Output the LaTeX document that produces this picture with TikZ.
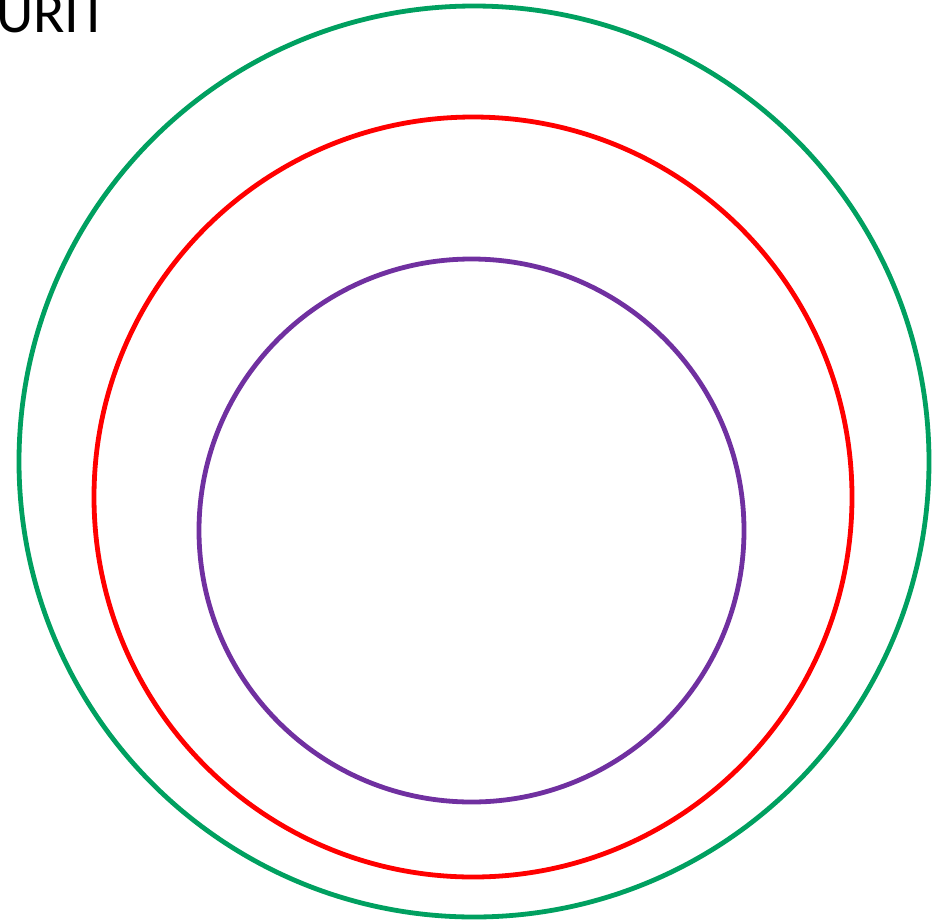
\documentclass[tikz,border=0pt]{standalone}
\usepackage{fontspec}
\setmainfont{Carlito}
\usepackage{tikz}
\definecolor{ringgreen}{HTML}{00A060}
\definecolor{ringred}{HTML}{FF0000}
\definecolor{ringpurple}{HTML}{7030A0}

\begin{document}
\begin{tikzpicture}[x=1pt, y=-1pt, ring/.style={line width=4.8pt}]
  \useasboundingbox (0,0) rectangle (948,922);
  \clip (0,0) rectangle (948,922);
  \node[anchor=base west, inner sep=0pt, font=\fontsize{58}{64}\selectfont] (title) at (-4,32) {URIT};

  \draw[ring, ringgreen] (474,461.5) ellipse[x radius=455, y radius=455.5];
  \draw[ring, ringred] (473,497) ellipse[x radius=379, y radius=380];
  \draw[ring, ringpurple] (471.5,530.5) ellipse[x radius=272.5, y radius=271.5];
\end{tikzpicture}
\end{document}
